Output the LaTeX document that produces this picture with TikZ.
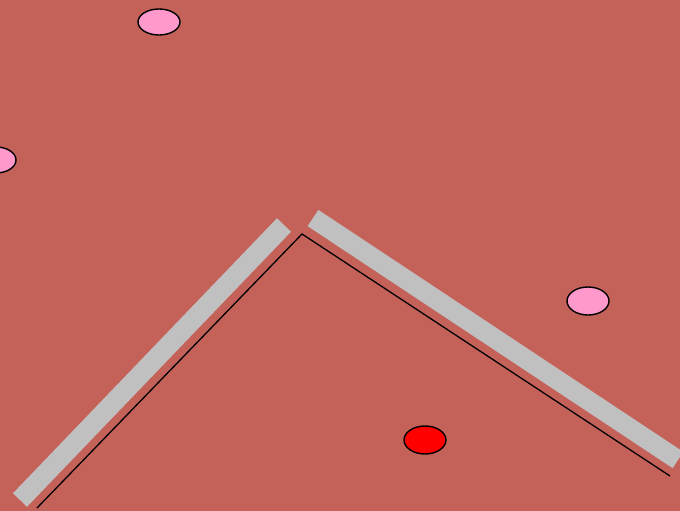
\documentclass[tikz,border=0pt]{standalone}
\definecolor{bg}{HTML}{C4625A}
\definecolor{pinkfill}{HTML}{FF99CC}
\definecolor{barg}{HTML}{C0C0C0}
\begin{document}
\begin{tikzpicture}[x=1pt,y=-1pt,
  bar/.style={draw=barg,line width=19.5pt},
  wire/.style={draw=black,line width=1.3pt,line join=miter},
  pinkdot/.style={draw=black,line width=1.4pt,fill=pinkfill},
  reddot/.style={draw=black,line width=1.4pt,fill=red}]
\fill[bg] (0,0) rectangle (680,511);
\useasboundingbox (0,0) rectangle (680,511);
\begin{scope}
\clip (0,0) rectangle (680,511);
\coordinate (b1a) at (20,500);
\coordinate (b1b) at (284,225);
\coordinate (b2a) at (313,218);
\coordinate (b2b) at (678,460);
\draw[bar] (b1a) -- (b1b);
\draw[bar] (b2a) -- (b2b);
\coordinate (w1) at (37,508);
\coordinate (w2) at (302,234);
\coordinate (w3) at (670,476);
\draw[wire] (w1) -- (w2) -- (w3);
\draw[pinkdot] (159,22) ellipse [x radius=21, y radius=13];
\draw[pinkdot] (-4,160) ellipse [x radius=20, y radius=13];
\draw[pinkdot] (588,301) ellipse [x radius=21, y radius=14];
\draw[reddot] (425,440) ellipse [x radius=21, y radius=14];
\end{scope}
\end{tikzpicture}
\end{document}
